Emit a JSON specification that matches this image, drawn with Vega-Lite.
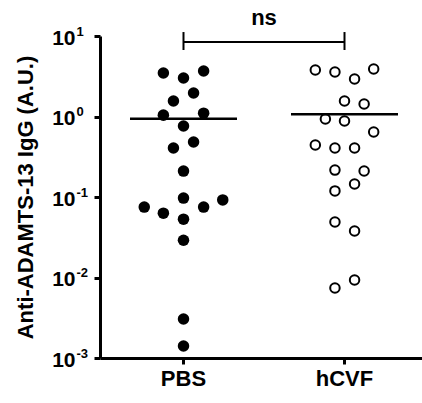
{
  "$schema": "https://vega.github.io/schema/vega-lite/v6.json",
  "width": 322,
  "height": 322,
  "autosize": {"type": "none"},
  "padding": {"left": 100, "top": 36, "right": 0, "bottom": 45},
  "background": "white",
  "config": {
    "view": {"stroke": null},
    "font": "Liberation Sans",
    "axis": {
      "grid": false,
      "domainColor": "black",
      "domainWidth": 3,
      "tickColor": "black",
      "tickWidth": 3,
      "tickSize": 6,
      "labelColor": "black",
      "labelFont": "Liberation Sans",
      "labelFontWeight": "bold",
      "titleColor": "black",
      "titleFont": "Liberation Sans",
      "titleFontWeight": "bold"
    }
  },
  "resolve": {"axis": {"y": "independent"}},
  "datasets": {
    "points": [
      {"group": "PBS", "value": 3.47, "col": -2},
      {"group": "PBS", "value": 3.01, "col": 0},
      {"group": "PBS", "value": 3.67, "col": 2},
      {"group": "PBS", "value": 1.96, "col": 1},
      {"group": "PBS", "value": 1.56, "col": -1},
      {"group": "PBS", "value": 1.04, "col": -2},
      {"group": "PBS", "value": 1.1, "col": 2},
      {"group": "PBS", "value": 0.762, "col": 0},
      {"group": "PBS", "value": 0.406, "col": -1},
      {"group": "PBS", "value": 0.482, "col": 1},
      {"group": "PBS", "value": 0.21, "col": 0},
      {"group": "PBS", "value": 0.097, "col": 0},
      {"group": "PBS", "value": 0.075, "col": -3.9},
      {"group": "PBS", "value": 0.063, "col": -2},
      {"group": "PBS", "value": 0.053, "col": 0},
      {"group": "PBS", "value": 0.075, "col": 2},
      {"group": "PBS", "value": 0.092, "col": 3.9},
      {"group": "PBS", "value": 0.029, "col": 0},
      {"group": "PBS", "value": 0.00305, "col": 0},
      {"group": "PBS", "value": 0.00141, "col": 0},
      {"group": "hCVF", "value": 3.78, "col": -2.9},
      {"group": "hCVF", "value": 3.57, "col": -0.95},
      {"group": "hCVF", "value": 2.92, "col": 1},
      {"group": "hCVF", "value": 3.89, "col": 2.9},
      {"group": "hCVF", "value": 1.56, "col": 0},
      {"group": "hCVF", "value": 1.43, "col": 1.95},
      {"group": "hCVF", "value": 0.931, "col": -1.9},
      {"group": "hCVF", "value": 0.879, "col": 0},
      {"group": "hCVF", "value": 0.641, "col": 2.9},
      {"group": "hCVF", "value": 0.443, "col": -2.9},
      {"group": "hCVF", "value": 0.406, "col": -0.95},
      {"group": "hCVF", "value": 0.406, "col": 1},
      {"group": "hCVF", "value": 0.216, "col": -0.95},
      {"group": "hCVF", "value": 0.21, "col": 1.95},
      {"group": "hCVF", "value": 0.145, "col": 1},
      {"group": "hCVF", "value": 0.119, "col": -0.95},
      {"group": "hCVF", "value": 0.0489, "col": -0.95},
      {"group": "hCVF", "value": 0.0378, "col": 1},
      {"group": "hCVF", "value": 0.0093, "col": 1},
      {"group": "hCVF", "value": 0.0074, "col": -0.95}
    ],
    "medians": [
      {"group": "PBS", "value": 0.94},
      {"group": "hCVF", "value": 1.07}
    ],
    "bracket": [
      {"group": "PBS", "value": 8.4},
      {"group": "hCVF", "value": 8.4}
    ],
    "ends": [
      {"group": "PBS", "lo": 6.7, "hi": 11.2},
      {"group": "hCVF", "lo": 6.7, "hi": 11.2}
    ],
    "label": [
      {"group": "PBS", "col": 8, "value": 16.5, "text": "ns"}
    ]
  },
  "layer": [
    {
      "data": {"name": "points"},
      "transform": [{"filter": "datum.group === 'PBS'"}],
      "mark": {"type": "point", "shape": "circle", "filled": true, "size": 133, "color": "black", "opacity": 1},
      "encoding": {
        "x": {
          "field": "group",
          "type": "nominal",
          "sort": ["PBS", "hCVF"],
          "scale": {"type": "band", "domain": ["PBS", "hCVF"], "paddingInner": 0, "paddingOuter": 0.0186, "range": [0, 328]},
          "axis": {"title": null, "labelFontSize": 22, "labelPadding": 4, "labelAngle": 0}
        },
        "xOffset": {"field": "col", "type": "quantitative", "scale": {"domain": [-8, 8]}},
        "y": {
          "field": "value",
          "type": "quantitative",
          "scale": {"type": "log", "domain": [0.001, 10], "nice": false},
          "axis": {
            "orient": "left",
            "title": "Anti-ADAMTS-13 IgG (A.U.)",
            "titleFontSize": 22,
            "titlePadding": 14,
            "labelFontSize": 21,
            "labelPadding": 19,
            "labelOffset": 2,
            "labelBaseline": "middle",
            "values": [0.001, 0.01, 0.1, 1, 10],
            "labelExpr": "'10'"
          }
        }
      }
    },
    {
      "data": {"name": "points"},
      "transform": [{"filter": "datum.group === 'hCVF'"}],
      "mark": {"type": "point", "shape": "circle", "filled": true, "size": 90, "fill": "white", "stroke": "black", "strokeWidth": 2, "opacity": 1},
      "encoding": {
        "x": {"field": "group", "type": "nominal", "title": null},
        "xOffset": {"field": "col", "type": "quantitative"},
        "y": {
          "field": "value",
          "type": "quantitative",
          "axis": {
            "orient": "left",
            "title": null,
            "domain": false,
            "ticks": false,
            "tickSize": 0,
            "labelFontSize": 13,
            "labelPadding": 24,
            "labelAlign": "left",
            "labelBaseline": "middle",
            "labelOffset": -5,
            "values": [0.001, 0.01, 0.1, 1, 10],
            "labelExpr": "datum.value >= 5 ? '1' : datum.value >= 0.5 ? '0' : datum.value >= 0.05 ? '-1' : datum.value >= 0.005 ? '-2' : '-3'"
          }
        }
      }
    },
    {
      "data": {"name": "medians"},
      "mark": {"type": "tick", "orient": "horizontal", "size": 107, "thickness": 2.5, "color": "black", "opacity": 1},
      "encoding": {
        "x": {"field": "group", "type": "nominal", "title": null},
        "y": {"field": "value", "type": "quantitative", "axis": null}
      }
    },
    {
      "data": {"name": "bracket"},
      "mark": {"type": "line", "color": "black", "strokeWidth": 2},
      "encoding": {
        "x": {"field": "group", "type": "nominal", "title": null},
        "y": {"field": "value", "type": "quantitative", "axis": null}
      }
    },
    {
      "data": {"name": "ends"},
      "mark": {"type": "rule", "color": "black", "strokeWidth": 2},
      "encoding": {
        "x": {"field": "group", "type": "nominal", "title": null},
        "y": {"field": "lo", "type": "quantitative", "axis": null},
        "y2": {"field": "hi"}
      }
    },
    {
      "data": {"name": "label"},
      "mark": {"type": "text", "fontSize": 22, "fontWeight": "bold", "baseline": "middle", "align": "center", "color": "black", "font": "Liberation Sans"},
      "encoding": {
        "x": {"field": "group", "type": "nominal", "title": null},
        "xOffset": {"field": "col", "type": "quantitative"},
        "y": {"field": "value", "type": "quantitative", "axis": null},
        "text": {"field": "text"}
      }
    }
  ]
}
